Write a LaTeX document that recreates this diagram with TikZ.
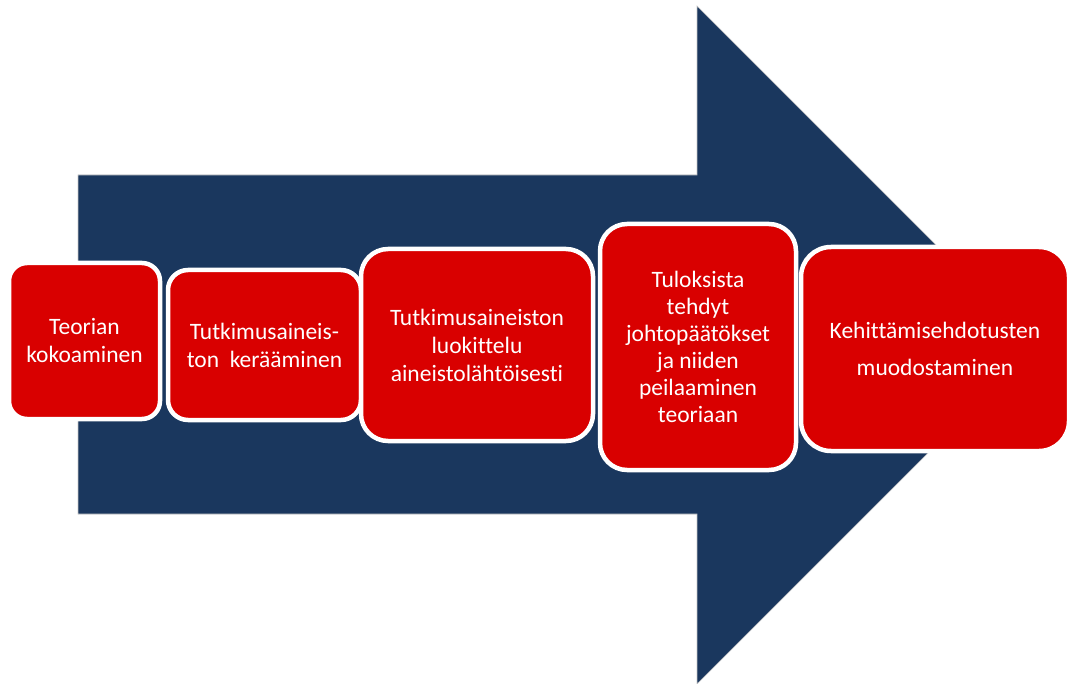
\documentclass[tikz,border=0pt]{standalone}
\usepackage{fontspec}
\setmainfont[Ligatures={NoCommon}]{Carlito}
\definecolor{navy}{RGB}{26,55,94}
\definecolor{stepred}{RGB}{217,0,0}
\begin{document}
\begin{tikzpicture}[x=1pt,y=-1pt,
  stepbox/.style={shape=rectangle, fill=stepred, draw=white, line width=4.5pt,
    inner sep=0pt, outer sep=0pt, align=center, text=white,
    font=\fontsize{23.5pt}{28pt}\selectfont},
  bigarrow/.style={fill=navy, draw=gray!45, line width=0.6pt}]
\useasboundingbox (0,0) rectangle (1067,684);
\begin{scope}
\clip (0,0) rectangle (1067,684);
% large process arrow in the background
\path[bigarrow] (78,175) -- (697,175) -- (697,6) -- (1036,345)
  -- (697,684) -- (697,514) -- (78,514) -- cycle;
% process steps
\node[stepbox, rounded corners=18pt, minimum width=151pt, minimum height=156pt]
  (s1) at (84.5,341) {Teorian\\kokoaminen};
\node[stepbox, rounded corners=20pt, minimum width=193pt, minimum height=150pt]
  (s2) at (264.5,345) {Tutkimusaineis-\\ton\ \ kerääminen};
\node[stepbox, rounded corners=27pt, minimum width=232pt, minimum height=192pt]
  (s3) at (477,345) {Tutkimusaineiston\\luokittelu\\aineistolähtöisesti};
\node[stepbox, rounded corners=27pt, minimum width=196pt, minimum height=246pt,
  font=\fontsize{23.5pt}{27pt}\selectfont]
  (s4) at (698,347) {Tuloksista\\tehdyt\\johtopäätökset\\ja niiden\\peilaaminen\\teoriaan};
\node[stepbox, rounded corners=30pt, minimum width=268pt, minimum height=204pt,
  font=\fontsize{23.5pt}{37pt}\selectfont]
  (s5) at (935,349) {Kehittämisehdotusten\\muodostaminen};
\end{scope}
\end{tikzpicture}
\end{document}
